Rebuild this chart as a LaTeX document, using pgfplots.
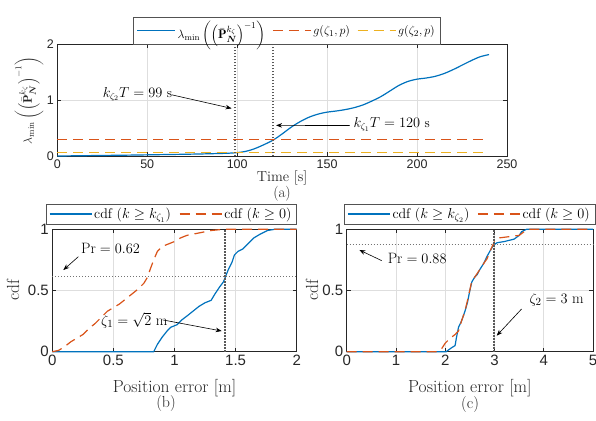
\documentclass[border=0pt]{standalone}
\usepackage{amsmath}
\usepackage{fontspec}
\newfontfamily\ticksf{Liberation Sans}
\usepackage{pgfplots}
\pgfplotsset{compat=1.18}
\usetikzlibrary{arrows.meta}

\definecolor{mblue}{rgb}{0,0.447,0.741}
\definecolor{mred}{rgb}{0.851,0.325,0.098}
\definecolor{myellow}{rgb}{0.929,0.694,0.125}
\definecolor{axgray}{rgb}{0.15,0.15,0.15}
\definecolor{gridgray}{rgb}{0.87,0.87,0.87}

\pgfplotsset{
  mstyle/.style={
    scale only axis,
    axis line style={axgray, line width=0.5pt},
    tick style={axgray, line width=0.5pt},
    major tick length=4pt,
    tick align=inside,
    grid=major,
    major grid style={gridgray, line width=0.5pt},
    tick label style={font=\fontsize{15}{17}\selectfont\ticksf, text=axgray},
    /pgf/number format/assume math mode=true,
    label style={font=\fontsize{17.5}{20}\selectfont, text=axgray},
    legend style={font=\fontsize{14}{16}\selectfont, draw=axgray!80, line width=0.5pt,
      /tikz/every even column/.append style={column sep=6pt}},
    legend cell align=left,
    legend image code/.code={\draw[##1] (0pt,0pt) -- (42pt,0pt);},
    clip=false,
  },
  vline/.style={draw=black!65, line width=2pt, dash pattern=on 1.5pt off 1.5pt, forget plot},
  hline/.style={draw=black!55, line width=0.6pt, dash pattern=on 1pt off 2pt, forget plot},
}
\tikzset{
  ann/.style={font=\fontsize{15}{17}\selectfont, inner sep=1pt},
  anntop/.style={font=\fontsize{13.5}{16}\selectfont, inner sep=1pt},
  arr/.style={-{Stealth[length=6pt,width=4.5pt]}, line width=0.6pt, black},
  mdash/.style={dash pattern=on 10pt off 6pt},
}

\begin{document}
\begin{tikzpicture}
\useasboundingbox (0,0) rectangle (596pt,420pt);

% ---------- (a) ----------
\begin{axis}[mstyle,
  at={(57.3pt,263.7pt)}, anchor=south west,
  width=449.7pt, height=111.8pt,
  xmin=0, xmax=250, ymin=0, ymax=2,
  xtick={0,50,...,250}, ytick={0,1,2},
  tick label style={font=\fontsize{12.5}{15}\selectfont\ticksf},
  xlabel={Time [s]},
  xlabel style={at={(axis description cs:0.5,-0.194)}, anchor=center, font=\fontsize{14.5}{17}\selectfont},
  ylabel={$\lambda_{\min}\left(\left(\bar{\mathbf{P}}^{k_\zeta}_{\boldsymbol{N}}\right)^{-1}\right)$},
  ylabel style={at={(axis description cs:-0.063,0.5)}, anchor=center, font=\fontsize{12.5}{15}\selectfont},
  legend columns=3,
  legend style={at={(0.5,1)}, anchor=south, xshift=4.5pt, font=\fontsize{12.5}{15}\selectfont,
    /tikz/every even column/.append style={column sep=5pt}},
  legend image code/.code={\draw[#1] (0pt,0pt) -- (38pt,0pt);},
]
\addplot[mblue, line width=1.2pt, smooth] coordinates {
  (0,0.005) (10,0.009) (20,0.013) (30,0.017) (40,0.021) (50,0.026)
  (60,0.031) (70,0.036) (80,0.042) (90,0.05) (95,0.055) (100,0.066)
  (105,0.09) (110,0.14) (115,0.21) (120,0.29) (125,0.40) (130,0.52)
  (135,0.62) (140,0.70) (145,0.755) (150,0.79) (155,0.81) (160,0.835)
  (165,0.87) (170,0.92) (175,0.99) (180,1.07) (185,1.17) (190,1.27)
  (195,1.34) (200,1.38) (205,1.40) (210,1.43) (215,1.48) (220,1.55)
  (225,1.63) (230,1.71) (235,1.78) (240,1.82)
};
\addlegendentry{$\lambda_{\min}\left(\left(\bar{\mathbf{P}}^{k_\zeta}_{\boldsymbol{N}}\right)^{-1}\right)$}
\addplot[mred, line width=1.2pt, mdash] coordinates {(0,0.3) (240,0.3)};
\addlegendentry{$g(\zeta_1,p)$}
\addplot[myellow, line width=1.2pt, mdash] coordinates {(0,0.07) (240,0.07)};
\addlegendentry{$g(\zeta_2,p)$}
\addplot[vline] coordinates {(99,0) (99,2)};
\addplot[vline] coordinates {(120,0) (120,2)};
\node[anntop, anchor=east] at (axis cs:64.5,1.11) {$k_{\zeta_2}T = 99$ s};
\draw[arr] (axis cs:63.6,1.1) -- (axis cs:96.9,0.857);
\node[anntop, anchor=west] at (axis cs:164,0.57) {$k_{\zeta_1}T = 120$ s};
\draw[arr] (axis cs:162.7,0.55) -- (axis cs:121.6,0.553);
\end{axis}
\node[font=\fontsize{15}{17}\selectfont, text=axgray] at (282pt,226pt) {(a)};

% ---------- (b) ----------
\begin{axis}[mstyle,
  at={(52.3pt,68.3pt)}, anchor=south west,
  width=244.4pt, height=122.4pt,
  xmin=0, xmax=2, ymin=0, ymax=1,
  xtick={0,0.5,1,1.5,2}, ytick={0,0.5,1},
  xlabel={Position error [m]},
  xlabel style={at={(axis description cs:0.5,-0.297)}, anchor=center},
  ylabel={cdf},
  ylabel style={at={(axis description cs:-0.161,0.5)}, anchor=center},
  legend columns=2,
  legend style={at={(1,1)}, anchor=south east, yshift=5pt},
]
\addplot[mblue, line width=1.2pt] coordinates {
  (0,0) (0.83,0) (0.86,0.06) (0.9,0.12) (0.94,0.17) (0.97,0.2) (1.02,0.22)
  (1.06,0.26) (1.1,0.29) (1.15,0.33) (1.2,0.37) (1.25,0.4) (1.3,0.42)
  (1.33,0.47) (1.37,0.53) (1.4,0.57) (1.42,0.62) (1.44,0.67) (1.47,0.73)
  (1.49,0.79) (1.52,0.82) (1.56,0.84) (1.6,0.88) (1.65,0.93) (1.7,0.96)
  (1.76,0.99) (1.82,1) (2,1)
};
\addlegendentry{cdf ($k \geq k_{\zeta_1}$)}
\addplot[mred, line width=1.2pt, mdash] coordinates {
  (0,0) (0.05,0.01) (0.1,0.04) (0.15,0.08) (0.2,0.11) (0.25,0.14) (0.3,0.19)
  (0.35,0.23) (0.4,0.28) (0.45,0.33) (0.5,0.36) (0.55,0.39) (0.6,0.43)
  (0.65,0.47) (0.7,0.51) (0.75,0.56) (0.78,0.61) (0.8,0.67) (0.83,0.75)
  (0.86,0.82) (0.9,0.86) (0.95,0.88) (1.0,0.9) (1.05,0.93) (1.1,0.95)
  (1.2,0.97) (1.3,0.99) (1.4,1) (2,1)
};
\addlegendentry{cdf ($k \geq 0$)}
\addplot[hline] coordinates {(0,0.62) (2,0.62)};
\addplot[vline] coordinates {(1.4142,0) (1.4142,1)};
\node[ann, anchor=west] at (axis cs:0.227,0.845) {$\mathrm{Pr} = 0.62$};
\draw[arr] (axis cs:0.213,0.776) -- (axis cs:0.09,0.667);
\node[ann, anchor=west] at (axis cs:0.39,0.26) {$\zeta_1 = \sqrt{2}$ m};
\draw[arr] (axis cs:0.908,0.259) -- (axis cs:1.386,0.169);
\end{axis}
\node[font=\fontsize{16}{18}\selectfont, text=axgray] at (166pt,16pt) {(b)};

% ---------- (c) ----------
\begin{axis}[mstyle,
  at={(346.7pt,68.3pt)}, anchor=south west,
  width=246.3pt, height=122.4pt,
  xmin=0, xmax=5, ymin=0, ymax=1,
  xtick={0,1,...,5}, ytick={0,0.5,1},
  xlabel={Position error [m]},
  xlabel style={at={(axis description cs:0.5,-0.297)}, anchor=center},
  ylabel={cdf},
  ylabel style={at={(axis description cs:-0.141,0.5)}, anchor=center},
  legend columns=2,
  legend style={at={(1,1)}, anchor=south east, yshift=5pt, xshift=2pt},
]
\addplot[mblue, line width=1.2pt] coordinates {
  (0,0) (2.02,0) (2.12,0.03) (2.2,0.05) (2.23,0.12) (2.27,0.2) (2.33,0.25)
  (2.4,0.33) (2.45,0.4) (2.5,0.5) (2.54,0.57) (2.6,0.61) (2.65,0.63)
  (2.7,0.67) (2.78,0.72) (2.85,0.78) (2.92,0.83) (2.98,0.87) (3.05,0.89)
  (3.2,0.9) (3.4,0.92) (3.5,0.95) (3.55,0.98) (3.65,1) (5,1)
};
\addlegendentry{cdf ($k \geq k_{\zeta_2}$)}
\addplot[mred, line width=1.2pt, mdash] coordinates {
  (0,0) (1.83,0) (1.92,0.02) (2.0,0.07) (2.1,0.11) (2.2,0.14) (2.27,0.17)
  (2.33,0.25) (2.4,0.33) (2.47,0.45) (2.53,0.56) (2.6,0.61) (2.7,0.67)
  (2.78,0.72) (2.85,0.76) (2.93,0.84) (3.0,0.9) (3.1,0.93) (3.3,0.94)
  (3.5,0.95) (3.6,0.98) (3.7,1) (5,1)
};
\addlegendentry{cdf ($k \geq 0$)}
\addplot[hline] coordinates {(0,0.88) (5,0.88)};
\addplot[vline] coordinates {(3,0) (3,1)};
\node[ann, anchor=west] at (axis cs:0.81,0.763) {$\mathrm{Pr} = 0.88$};
\draw[arr] (axis cs:0.71,0.744) -- (axis cs:0.256,0.831);
\node[ann, anchor=west] at (axis cs:3.687,0.422) {$\zeta_2 = 3$ m};
\draw[arr] (axis cs:3.55,0.349) -- (axis cs:3.045,0.131);
\end{axis}
\node[font=\fontsize{16}{18}\selectfont, text=axgray] at (470pt,15pt) {(c)};
\end{tikzpicture}
\end{document}
